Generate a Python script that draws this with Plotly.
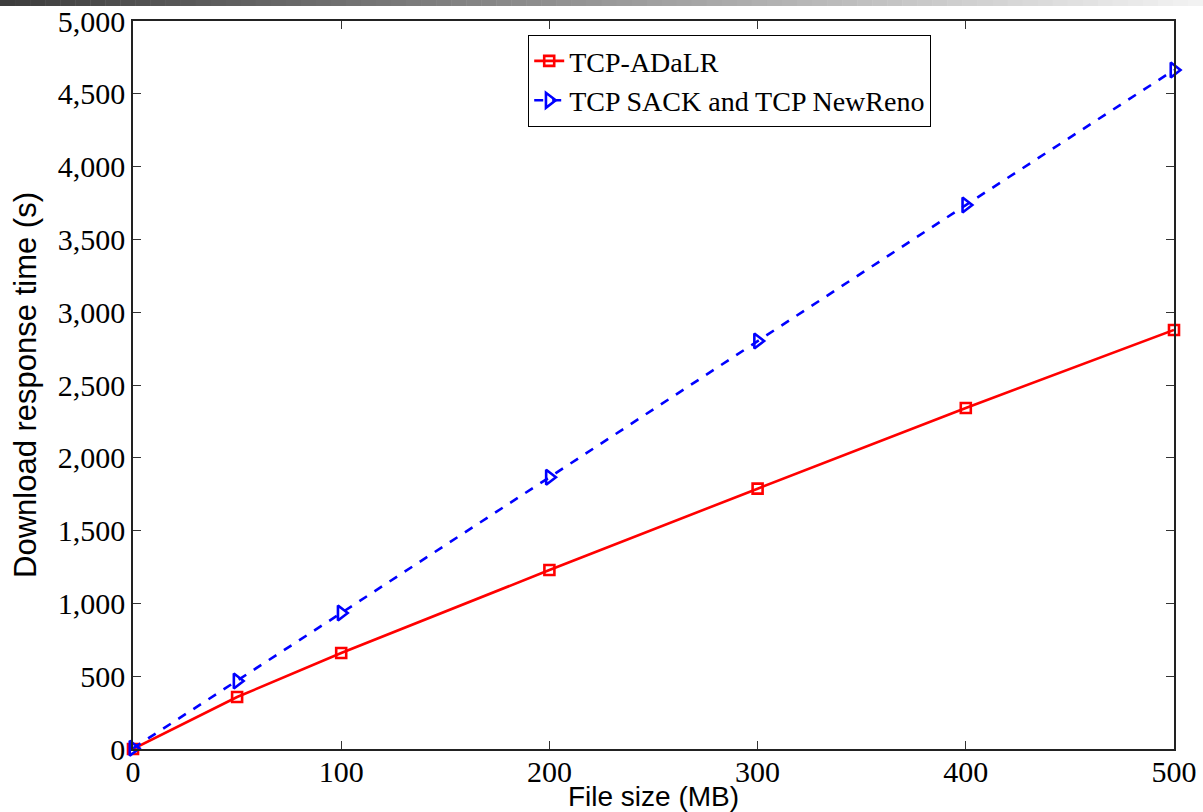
import plotly.graph_objects as go

file_size = [0, 50, 100, 200, 300, 400, 500]
adalr = [0, 357, 659, 1229, 1788, 2342, 2878]
sack_newreno = [5, 467, 934, 1866, 2802, 3736, 4663]
series_names = ["TCP-ADaLR", "TCP SACK and TCP NewReno"]
x_ticks = [0, 100, 200, 300, 400, 500]
y_ticks = [0, 500, 1000, 1500, 2000, 2500, 3000, 3500, 4000, 4500, 5000]

W, H = 1203, 812
L, R, T, B = 133, 29, 21, 63
pw, ph = W - L - R, H - T - B

fig = go.Figure()
fig.add_trace(go.Scatter(
    x=file_size, y=adalr, name=series_names[0], mode="lines+markers",
    line=dict(color="#ff0000", width=2.6),
    marker=dict(symbol="square-open", size=10, color="#ff0000", line=dict(width=2.6)),
    cliponaxis=False,
))
fig.add_trace(go.Scatter(
    x=file_size, y=sack_newreno, name=series_names[1], mode="lines+markers",
    line=dict(color="#0000ff", width=2.6, dash="dash"),
    marker=dict(symbol="triangle-right-open", size=13, color="#0000ff", line=dict(width=2.6)),
    cliponaxis=False,
))

# top gradient bar
shapes = []
n = 80
for i in range(n):
    x0 = i * W / n
    x1 = (i + 1) * W / n
    t = (i + 0.5) / n
    v = int(0x3c + (0xf4 - 0x3c) * t)
    shapes.append(dict(
        type="rect", xref="paper", yref="paper",
        x0=(x0 - L) / pw, x1=(x1 + 0.5 - L) / pw,
        y0=(H - B - 6) / ph, y1=(H - B + 0.5) / ph,
        fillcolor=f"rgb({v},{v},{v})", line=dict(width=0), layer="above",
    ))

axis_common = dict(
    showline=True, linecolor="#222222", linewidth=1.5, mirror="ticks",
    ticks="inside", ticklen=8, tickcolor="#333333", tickwidth=1.2,
    showgrid=False, zeroline=False, automargin=False,
    tickfont=dict(family="Liberation Serif, Times New Roman, serif", size=30, color="#000000"),
)

fig.update_layout(
    width=W, height=H,
    margin=dict(l=L, r=R, t=T, b=B, autoexpand=False),
    paper_bgcolor="white", plot_bgcolor="white",
    showlegend=True,
    legend=dict(
        x=(528 - L) / pw, y=(H - B - 35) / ph, xanchor="left", yanchor="top",
        bgcolor="white", bordercolor="#000000", borderwidth=1.2,
        font=dict(family="Liberation Serif, Times New Roman, serif", size=28, color="#000000"),
        tracegroupgap=0, itemwidth=30,
    ),
    xaxis=dict(
        range=[0, 500], tickvals=x_ticks, ticktext=[str(v) for v in x_ticks],
        ticklabelstandoff=-5,
        title=dict(text="File size (MB)", standoff=0,
                   font=dict(family="Liberation Sans, Arial, sans-serif", size=28, color="#000000")),
        **axis_common,
    ),
    yaxis=dict(
        range=[0, 5000], tickvals=y_ticks, tickformat=",d",
        title=dict(text="Download response time (s)", standoff=12,
                   font=dict(family="Liberation Sans, Arial, sans-serif", size=31, color="#000000")),
        **axis_common,
    ),
    shapes=shapes,
)

fig.write_html("out.html", config={"displayModeBar": False},
               post_script="document.body.style.margin='0';document.body.style.overflow='hidden';")
